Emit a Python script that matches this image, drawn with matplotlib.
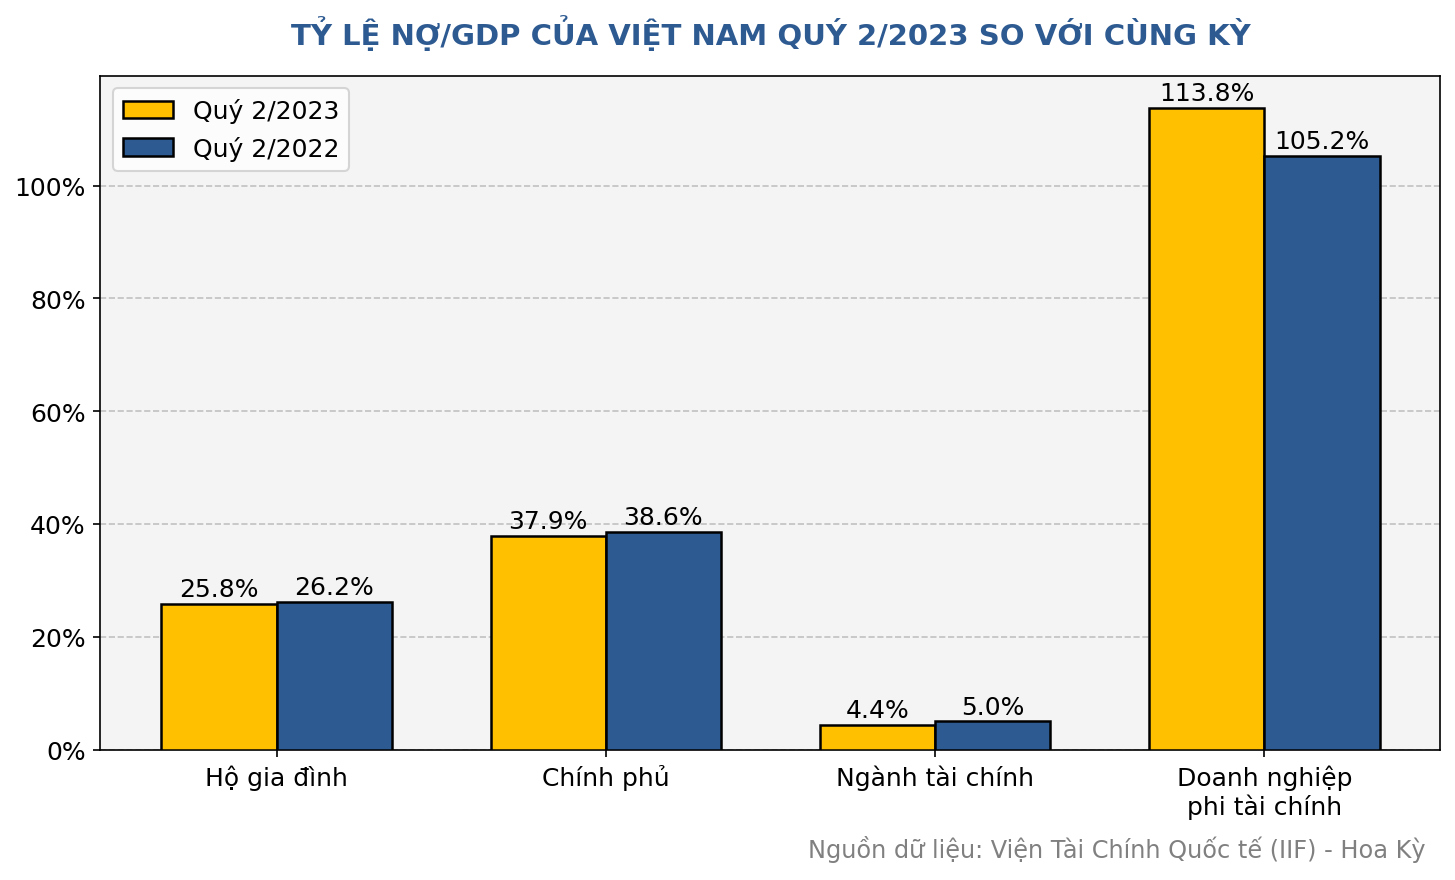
import numpy as np
import matplotlib
matplotlib.use('Agg')
from matplotlib import pyplot as plt
from matplotlib.ticker import FuncFormatter

# data
categories = ['Hộ gia đình', 'Chính phủ', 'Ngành tài chính', 'Doanh nghiệp\nphi tài chính']
q2_2023 = [25.8, 37.9, 4.4, 113.8]
q2_2022 = [26.2, 38.6, 5.0, 105.2]
series_names = ['Quý 2/2023', 'Quý 2/2022']

yellow = '#FFC000'
blue = '#2E5A92'

fig, ax = plt.subplots(figsize=(9.7, 5.873), dpi=150)
ax.set_facecolor('#F4F4F4')

x = np.arange(len(categories))
w = 0.35
b1 = ax.bar(x - w/2, q2_2023, w, color=yellow, edgecolor='black', linewidth=1.2, label=series_names[0], zorder=3)
b2 = ax.bar(x + w/2, q2_2022, w, color=blue, edgecolor='black', linewidth=1.2, label=series_names[1], zorder=3)

for bars in (b1, b2):
    for bar in bars:
        h = bar.get_height()
        ax.text(bar.get_x() + bar.get_width()/2, h + 0.5, f'{h:.1f}%',
                ha='center', va='bottom', fontsize=12, zorder=4)

ax.set_xticks(x)
ax.set_xticklabels(categories, fontsize=12)
ax.tick_params(axis='y', labelsize=12)
ax.yaxis.set_major_formatter(FuncFormatter(lambda v, p: f'{v:.0f}%'))
ax.set_ylim(0, max(q2_2023 + q2_2022) * 1.05)
ax.grid(axis='y', linestyle='--', color='#BBBBBB', alpha=0.9, zorder=0)

ax.legend(loc='upper left', fontsize=12)
ax.set_title('TỶ LỆ NỢ/GDP CỦA VIỆT NAM QUÝ 2/2023 SO VỚI CÙNG KỲ',
             fontsize=14, fontweight='bold', color=blue, pad=15)

fig.text(0.98, 0.02, 'Nguồn dữ liệu: Viện Tài Chính Quốc tế (IIF) - Hoa Kỳ',
         ha='right', va='bottom', fontsize=11.5, color='gray')

plt.subplots_adjust(left=0.069, right=0.99, top=0.913, bottom=0.148)
plt.savefig('out.png', dpi=150)
